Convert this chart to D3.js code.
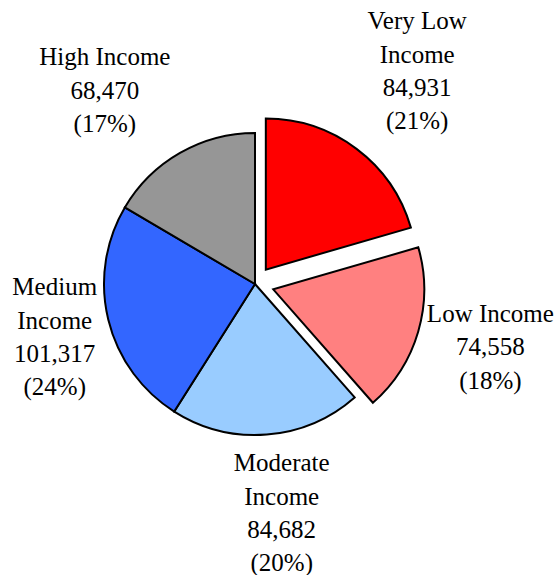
<!DOCTYPE html>
<html>
<head>
<meta charset="utf-8">
<script src="https://cdn.jsdelivr.net/npm/d3@7"></script>
<style>
  body { margin: 0; background: #fff; }
  text { font-family: "Liberation Serif", "Times New Roman", serif; font-size: 25px; fill: #000; }
</style>
</head>
<body>
<div class="canvas"></div>
<script>
// data
const categories = ['Very Low Income', 'Low Income', 'Moderate Income', 'Medium Income', 'High Income'];
const values = [84931, 74558, 84682, 101317, 68470];
const percents = ['21%', '18%', '20%', '24%', '17%'];
// label text split into lines as shown on the chart
const labelLines = [
  ['Very Low', 'Income'],
  ['Low Income'],
  ['Moderate', 'Income'],
  ['Medium', 'Income'],
  ['High Income']
];

const colors = ['#ff0000', '#ff8080', '#99ccff', '#3366ff', '#969696'];

// layout
const dimension = { width: 558, height: 575, radius: 151 };
const center = { x: 255, y: 284 };
const explode = [18, 19, 0, 0, 0];
const labelRadius = 240;
const labelNudge = [[18, -13], [5, 4], [8, -2], [33, 5], [-31, 23]];
const lineHeight = 33.3;

const data = categories.map((name, i) => ({ name, value: values[i], pct: percents[i], i }));

const svg = d3
  .select('.canvas')
  .append('svg')
  .attr('width', dimension.width)
  .attr('height', dimension.height);

const graph = svg
  .append('g')
  .attr('transform', `translate(${center.x}, ${center.y})`);

const pie = d3
  .pie()
  .sort(null)
  .value(d => d.value);

const arcPath = d3
  .arc()
  .outerRadius(dimension.radius)
  .innerRadius(0);

const labelArc = d3
  .arc()
  .outerRadius(labelRadius)
  .innerRadius(labelRadius);

const angles = pie(data);

// slices
graph
  .selectAll('path')
  .data(angles)
  .enter()
  .append('path')
  .attr('d', arcPath)
  .attr('fill', d => colors[d.data.i])
  .attr('stroke', '#000')
  .attr('stroke-width', 2)
  .attr('stroke-linejoin', 'miter')
  .attr('transform', d => {
    const mid = (d.startAngle + d.endAngle) / 2;
    const off = explode[d.data.i];
    return `translate(${Math.sin(mid) * off}, ${-Math.cos(mid) * off})`;
  });

// labels
const fmt = d3.format(',');
const labels = graph
  .selectAll('g.label')
  .data(angles)
  .enter()
  .append('g')
  .attr('class', 'label')
  .attr('transform', d => {
    const c = labelArc.centroid(d);
    const n = labelNudge[d.data.i];
    return `translate(${c[0] + n[0]}, ${c[1] + n[1]})`;
  });

labels.each(function(d) {
  const lines = labelLines[d.data.i].concat([fmt(d.data.value), `(${d.data.pct})`]);
  const g = d3.select(this);
  lines.forEach((line, k) => {
    g.append('text')
      .attr('text-anchor', 'middle')
      .attr('x', 0)
      .attr('y', (k - (lines.length - 1) / 2) * lineHeight)
      .text(line);
  });
});
</script>
</body>
</html>
